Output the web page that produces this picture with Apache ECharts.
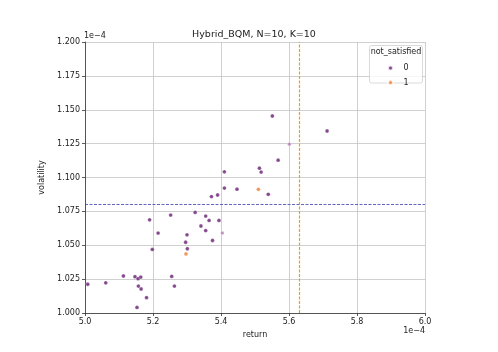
<!DOCTYPE html>
<html>
<head>
<meta charset="utf-8">
<script src="https://cdn.jsdelivr.net/npm/echarts@6/dist/echarts.min.js"></script>
<style>html,body{margin:0;padding:0;background:#fff}#c{width:498px;height:352px}</style>
</head>
<body>
<div id="c"></div>
<script>
// values in units of 1e-4
const title = 'Hybrid_BQM, N=10, K=10';
const legendTitle = 'not_satisfied';
const xTicks = [5.0, 5.2, 5.4, 5.6, 5.8, 6.0];
const yTicks = [1.000, 1.025, 1.050, 1.075, 1.100, 1.125, 1.150, 1.175, 1.200];
const ret0 = [5.008, 5.061, 5.113, 5.147, 5.156, 5.164, 5.157, 5.165, 5.181, 5.153, 5.190, 5.198, 5.215, 5.252, 5.255, 5.263, 5.296, 5.300, 5.301, 5.324, 5.341, 5.355, 5.355, 5.365, 5.375, 5.372, 5.390, 5.394, 5.410, 5.410, 5.447, 5.513, 5.518, 5.539, 5.551, 5.712, 5.568];
const vol0 = [1.0212, 1.0223, 1.0273, 1.0268, 1.0253, 1.0265, 1.0199, 1.0177, 1.0113, 1.0041, 1.0688, 1.0469, 1.0590, 1.0723, 1.0270, 1.0199, 1.0522, 1.0577, 1.0474, 1.0742, 1.0642, 1.0715, 1.0608, 1.0683, 1.0535, 1.0859, 1.0871, 1.0683, 1.0922, 1.1042, 1.0914, 1.1069, 1.1040, 1.0876, 1.1454, 1.1343, 1.1128];
const retFaint = [5.404, 5.601];
const volFaint = [1.0590, 1.1246];
const ret1 = [5.297, 5.510];
const vol1 = [1.0436, 1.0913];
const hLine = 1.0818;
const vLine = 5.633;

const FONT = 'DejaVu Sans';
const C0 = '#651b70', C1 = '#ef7a30';
const zip = (a, b) => a.map((v, i) => [v, b[i]]);

const chart = echarts.init(document.getElementById('c'), null, {renderer: 'canvas'});
const axisCommon = {
  axisLine: {show: true, onZero: false, lineStyle: {color: '#333', width: 0.8}},
  axisTick: {show: true, length: 3, lineStyle: {color: '#333', width: 0.8}},
  splitLine: {show: true, lineStyle: {color: '#c4c4c4', width: 0.8}},
  nameTextStyle: {fontFamily: FONT, fontSize: 8, color: '#222'}
};
chart.setOption({
  animation: false,
  backgroundColor: '#fff',
  grid: {left: 85, right: 73, top: 42, bottom: 39, containLabel: false},
  xAxis: Object.assign({
    type: 'value', min: xTicks[0], max: xTicks[xTicks.length - 1], interval: 0.2,
    name: 'return', nameLocation: 'middle', nameGap: 13,
    axisLabel: {fontFamily: FONT, fontSize: 8, color: '#222', margin: 5, formatter: v => v.toFixed(1)}
  }, axisCommon),
  yAxis: Object.assign({
    type: 'value', min: yTicks[0], max: yTicks[yTicks.length - 1], interval: 0.025,
    name: 'volatility', nameLocation: 'middle', nameGap: 28,
    axisLabel: {fontFamily: FONT, fontSize: 8, color: '#222', margin: 5, formatter: v => v.toFixed(3)}
  }, axisCommon),
  legend: {
    data: ['0', '1'], orient: 'vertical', left: 382, top: 59, z: 20,
    itemWidth: 16, itemHeight: 5, itemGap: 6.5, icon: 'circle',
    textStyle: {fontFamily: FONT, fontSize: 8, color: '#222'}
  },
  series: [
    {name: '0', type: 'scatter', data: zip(ret0, vol0), symbolSize: 3.8,
     itemStyle: {color: C0, borderColor: '#fff', borderWidth: 0.3}, z: 3,
     markLine: {silent: true, symbol: 'none', label: {show: false},
       lineStyle: {color: '#3b3bb0', type: [3, 1.5], width: 0.8},
       data: [{yAxis: hLine}]}},
    {name: 'faint', type: 'scatter', data: zip(retFaint, volFaint), symbolSize: 3.5,
     itemStyle: {color: '#b07aae', borderColor: '#fff', borderWidth: 0.3}, z: 3},
    {name: '1', type: 'scatter', data: zip(ret1, vol1), symbolSize: 3.8,
     itemStyle: {color: C1, borderColor: '#fff', borderWidth: 0.3}, z: 3,
     markLine: {silent: true, symbol: 'none', label: {show: false},
       lineStyle: {color: '#f0a000', type: [3, 1.5], width: 1.2, opacity: 1},
       emphasis: {disabled: true},
       data: [{xAxis: vLine}]}}
  ],
  graphic: [
    {type: 'text', x: 254, y: 30, style: {text: title, fontFamily: FONT, fontSize: 9.5, fill: '#222', align: 'center'}, z: 10},
    {type: 'text', x: 84, y: 32, style: {text: '1e\u22124', fontFamily: FONT, fontSize: 8, fill: '#222'}},
    {type: 'text', x: 425, y: 327, style: {text: '1e\u22124', fontFamily: FONT, fontSize: 8, fill: '#222', align: 'right'}},
    {type: 'rect', shape: {x: 369.5, y: 45.5, width: 53, height: 37.5, r: 2},
     style: {fill: 'rgba(255,255,255,0.8)', stroke: '#d0d0d0', lineWidth: 0.8}, z: 5},
    {type: 'text', x: 396, y: 48, style: {text: legendTitle, fontFamily: FONT, fontSize: 8, fill: '#222', align: 'center'}, z: 6}
  ]
});
</script>
</body>
</html>
